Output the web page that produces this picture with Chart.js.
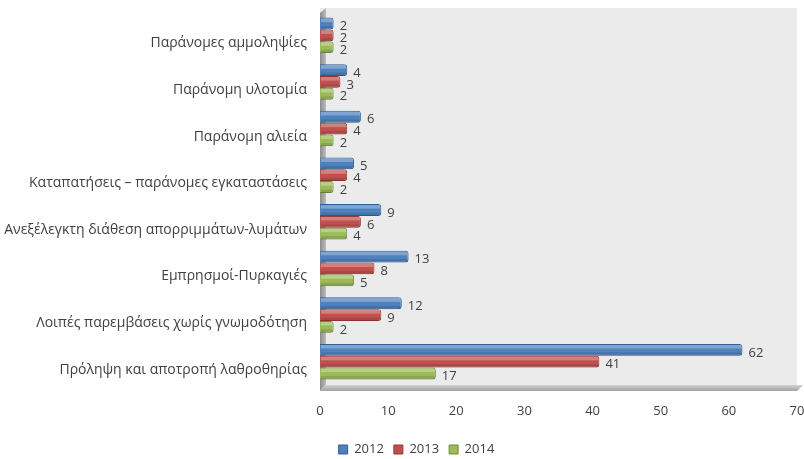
<!DOCTYPE html>
<html>
<head>
<meta charset="utf-8">
<script src="https://cdn.jsdelivr.net/npm/chart.js@4/dist/chart.umd.min.js"></script>
<style>
html,body{margin:0;padding:0;background:#fff;}
#wrap{width:804px;height:459px;}
</style>
</head>
<body>
<div id="wrap"><canvas id="c" width="804" height="459"></canvas></div>
<script>
const categories = [
  "Παράνομες αμμοληψίες",
  "Παράνομη υλοτομία",
  "Παράνομη αλιεία",
  "Καταπατήσεις – παράνομες εγκαταστάσεις",
  "Ανεξέλεγκτη διάθεση απορριμμάτων-λυμάτων",
  "Εμπρησμοί-Πυρκαγιές",
  "Λοιπές παρεμβάσεις χωρίς γνωμοδότηση",
  "Πρόληψη και αποτροπή λαθροθηρίας"
];
const values2012 = [2, 4, 6, 5, 9, 13, 12, 62];
const values2013 = [2, 3, 4, 4, 6, 8, 9, 41];
const values2014 = [2, 2, 2, 2, 4, 5, 2, 17];
const seriesNames = ["2012", "2013", "2014"];
const xTicks = [0, 10, 20, 30, 40, 50, 60, 70];

const FONT = "'Open Sans', 'Noto Sans', sans-serif";
const TXT = "#404040";

const wallPlugin = {
  id: 'wall',
  afterLayout(chart) {
    const lg = chart.legend;
    if (lg) { lg.left += 18; lg.right += 18; lg.top += 7; lg.bottom += 7; }
  },
  beforeDatasetsDraw(chart) {
    const {ctx, chartArea: a} = chart;
    ctx.save();
    ctx.fillStyle = '#ebebeb';
    ctx.fillRect(a.left, a.top - 4, a.right - a.left, a.bottom - a.top + 4);
    const g = ctx.createLinearGradient(a.left, 0, a.left + 6, 0);
    g.addColorStop(0, '#8c8c8c');
    g.addColorStop(1, '#bdbdbd');
    ctx.fillStyle = g;
    ctx.beginPath();
    ctx.moveTo(a.left, a.top + 1);
    ctx.lineTo(a.left + 6, a.top - 4);
    ctx.lineTo(a.left + 6, a.bottom);
    ctx.lineTo(a.left, a.bottom + 6);
    ctx.closePath();
    ctx.fill();
    const f = ctx.createLinearGradient(0, a.bottom, 0, a.bottom + 7);
    f.addColorStop(0, '#d2d2d2');
    f.addColorStop(1, '#9a9a9a');
    ctx.fillStyle = f;
    ctx.beginPath();
    ctx.moveTo(a.left, a.bottom + 6);
    ctx.lineTo(a.left + 6, a.bottom);
    ctx.lineTo(a.right + 6, a.bottom);
    ctx.lineTo(a.right, a.bottom + 6);
    ctx.closePath();
    ctx.fill();
    ctx.restore();
  },
  afterDatasetsDraw(chart) {
    const {ctx} = chart;
    ctx.save();
    chart.data.datasets.forEach((ds, i) => {
      const meta = chart.getDatasetMeta(i);
      meta.data.forEach((el) => {
        const h = el.height, top = el.y - h / 2, x0 = el.base, x1 = el.x - 2;
        if (x1 <= x0) return;
        ctx.fillStyle = 'rgba(255,255,255,0.28)';
        ctx.fillRect(x0 + 1, top + 1, x1 - x0, Math.max(2, h * 0.3));
        ctx.fillStyle = 'rgba(0,0,0,0.12)';
        ctx.fillRect(x0 + 1, top + h * 0.72, x1 - x0, h * 0.26);
      });
    });
    ctx.font = "13px " + FONT;
    ctx.fillStyle = TXT;
    ctx.textBaseline = 'middle';
    ctx.textAlign = 'left';
    chart.data.datasets.forEach((ds, i) => {
      const meta = chart.getDatasetMeta(i);
      meta.data.forEach((el, j) => {
        ctx.fillText(String(ds.data[j]), el.x + 6, el.y + 3);
      });
    });
    ctx.restore();
  }
};

function ds(label, data, color, border) {
  return {
    label, data,
    backgroundColor: color,
    borderColor: border,
    borderWidth: 1,
    borderRadius: {topRight: 3, bottomRight: 3},
    borderSkipped: 'left',
    categoryPercentage: 0.76,
    barPercentage: 1.0
  };
}

new Chart(document.getElementById('c'), {
  type: 'bar',
  data: {
    labels: categories,
    datasets: [
      ds(seriesNames[0], values2012, '#4f81bd', '#2f5f98'),
      ds(seriesNames[1], values2013, '#c0504d', '#953735'),
      ds(seriesNames[2], values2014, '#9bbb59', '#71893f')
    ]
  },
  options: {
    indexAxis: 'y',
    responsive: false,
    animation: false,
    layout: {padding: {top: 12, right: 7, left: 0, bottom: 0}},
    scales: {
      x: {
        min: xTicks[0], max: xTicks[xTicks.length - 1],
        afterBuildTicks(axis) { axis.ticks = xTicks.map(v => ({value: v})); },
        afterFit(axis) { axis.paddingRight = 0; axis.paddingLeft = 0; axis.height = 41; },
        grid: {display: false, drawTicks: false},
        border: {display: false},
        ticks: {color: TXT, font: {family: FONT, size: 13}, padding: 18}
      },
      y: {
        afterFit(axis) { axis.paddingTop = 0; axis.paddingBottom = 0; axis.width = 320; },
        grid: {display: false, drawTicks: false},
        border: {display: false},
        ticks: {color: TXT, font: {family: FONT, size: 14}, padding: 13, labelOffset: 8}
      }
    },
    plugins: {
      legend: {
        position: 'bottom',
        labels: {
          color: TXT, font: {family: FONT, size: 13},
          boxWidth: 9, boxHeight: 9, padding: 10
        }
      },
      tooltip: {enabled: false}
    }
  },
  plugins: [wallPlugin]
});
</script>
</body>
</html>
